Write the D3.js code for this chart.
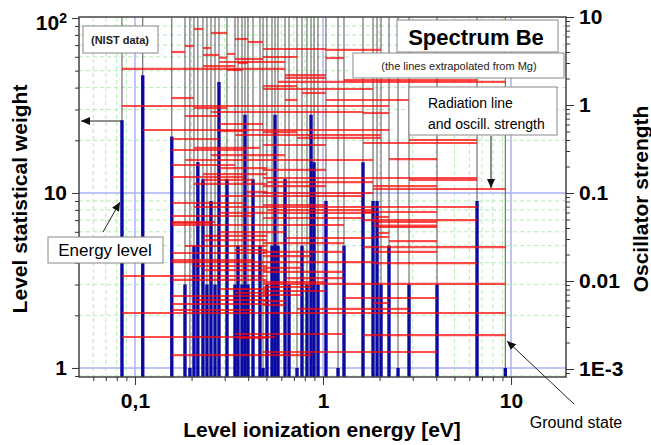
<!DOCTYPE html>
<html>
<head>
<meta charset="utf-8">
<script src="https://cdn.jsdelivr.net/npm/d3@7"></script>
<style>
body { margin: 0; background: #fff; }
text { font-family: "Liberation Sans", Arial, sans-serif; }
</style>
</head>
<body>
<div id="chart"></div>
<script>
// Be levels: ionization energy (eV) and statistical weight
const levelEnergy = [0.0853, 0.110, 0.157, 0.1845, 0.196, 0.206, 0.216, 0.230, 0.2415, 0.2537,
    0.2665, 0.2798, 0.3086, 0.3404, 0.3531, 0.3709, 0.3847, 0.399, 0.4244, 0.4623,
    0.4797, 0.5036, 0.5355, 0.5556, 0.5763, 0.6281, 0.6595, 0.7273, 0.7731, 0.8219,
    0.8636, 0.896, 0.9406, 1.037, 1.202, 1.293, 1.632, 1.845, 1.938, 2.035,
    2.244, 2.506, 2.867, 4.04, 6.593, 9.32];
const levelWeight = [26, 47, 21, 3, 1, 5, 15, 12, 3, 9,
    3, 43, 12, 3, 5, 3, 28, 3, 12, 5,
    1, 3, 5, 28, 5, 12, 3, 1, 5, 3,
    28, 15, 3, 9, 1, 5, 15, 9, 9, 3,
    5, 1, 3, 3, 9, 1];

// radiation lines: [level from, level to, oscillator strength]
const transitions = [
    [5, 7, 7.31], [9, 12, 6.58], [13, 17, 5.62], [17, 20, 5.20], [3, 5, 4.68], [7, 9, 4.44],
    [20, 33, 4.33], [33, 39, 4.22], [2, 3, 4.00], [12, 13, 3.80], [7, 11, 3.70], [20, 27, 3.51],
    [33, 35, 3.42], [11, 12, 3.45], [13, 20, 3.33], [11, 25, 3.08], [14, 17, 3.00], [7, 13, 2.77],
    [0, 25, 2.57], [12, 15, 2.50], [25, 33, 2.19], [25, 33, 2.03], [35, 44, 1.92], [24, 45, 1.83],
    [20, 27, 1.64], [20, 37, 1.52], [28, 33, 1.37], [2, 5, 1.20], [25, 27, 1.14], [33, 42, 1.14],
    [0, 40, 0.974], [5, 12, 0.925], [9, 36, 0.833], [36, 40, 0.811], [3, 11, 0.750], [11, 20, 0.608],
    [1, 40, 0.520], [11, 16, 0.506], [20, 27, 0.493], [13, 39, 0.456], [27, 39, 0.422], [2, 11, 0.411],
    [42, 44, 0.400], [36, 44, 0.370], [20, 33, 0.351], [5, 19, 0.325], [2, 16, 0.308], [9, 25, 0.270],
    [40, 43, 0.243], [3, 37, 0.237], [2, 13, 0.208], [11, 21, 0.192], [20, 33, 0.183], [7, 21, 0.164],
    [2, 16, 0.152], [20, 44, 0.148], [7, 18, 0.141], [42, 44, 0.141], [21, 37, 0.133], [5, 21, 0.127],
    [20, 33, 0.120], [37, 43, 0.120], [37, 45, 0.111], [16, 21, 0.103], [20, 37, 0.100], [11, 36, 0.0924],
    [2, 16, 0.0770], [20, 33, 0.0730], [5, 44, 0.0693], [21, 37, 0.0641], [36, 43, 0.0608], [11, 37, 0.0593],
    [2, 18, 0.0548], [37, 40, 0.0534], [20, 36, 0.0520], [36, 44, 0.0493], [37, 43, 0.0468], [2, 10, 0.0468],
    [2, 9, 0.0456], [2, 35, 0.0433], [37, 43, 0.0426], [38, 43, 0.0411], [11, 25, 0.0360], [38, 40, 0.0351],
    [7, 21, 0.0325], [37, 40, 0.0316], [25, 37, 0.0308], [7, 21, 0.0292], [40, 43, 0.0284], [20, 35, 0.0270],
    [3, 21, 0.0250], [36, 45, 0.0243], [13, 21, 0.0225], [20, 35, 0.0214], [37, 43, 0.0214], [2, 21, 0.0208],
    [20, 30, 0.0192], [2, 18, 0.0173], [2, 37, 0.0164], [37, 44, 0.0160], [5, 21, 0.0148], [20, 28, 0.0141],
    [7, 21, 0.0133], [20, 35, 0.0127], [0, 21, 0.0114], [25, 35, 0.0108], [2, 21, 0.0103], [20, 33, 0.00974],
    [20, 45, 0.00925], [20, 30, 0.00855], [11, 21, 0.00811], [20, 33, 0.00770], [13, 21, 0.00731], [20, 28, 0.00693],
    [2, 21, 0.00675], [35, 43, 0.00641], [5, 21, 0.00608], [20, 25, 0.00593], [37, 40, 0.00562], [2, 21, 0.00548],
    [20, 25, 0.00534], [27, 42, 0.00481], [2, 18, 0.00468], [0, 45, 0.00433], [13, 35, 0.00250], [36, 45, 0.00243],
    [0, 23, 0.00231], [14, 21, 0.00225], [20, 43, 0.00156], [2, 30, 0.00144]
];

const xTicks = [0.1, 1, 10];
const xTickLabels = ["0,1", "1", "10"];
const wTicks = [1, 10, 100];
const fTicks = [0.001, 0.01, 0.1, 1, 10];
const fTickLabels = ["1E-3", "0.01", "0.1", "1", "10"];

const width = 651, height = 445;
const mLeft = 79, mRight = 566, mTop = 17, mBottom = 377;

const svg = d3.select("#chart").append("svg")
    .attr("width", width)
    .attr("height", height)
    .style("display", "block");

const x = d3.scaleLog().domain([0.0504, 19.6]).range([mLeft, mRight]);
const yW = d3.scaleLog().domain([0.888, 101.3]).range([mBottom, mTop]);
const yF = d3.scaleLog().domain([8.11e-4, 10]).range([mBottom, mTop]);

const isPow10 = v => Math.abs(Math.log10(v) - Math.round(Math.log10(v))) < 1e-6;
const xMinor = x.ticks().filter(v => !isPow10(v));
const wMinor = yW.ticks().filter(v => !isPow10(v));
const fMinor = yF.ticks().filter(v => !isPow10(v));

// minor grid
const grid = svg.append("g");
grid.selectAll(".gx").data(xMinor).enter().append("line")
    .attr("x1", d => x(d)).attr("x2", d => x(d))
    .attr("y1", mTop).attr("y2", mBottom)
    .attr("stroke", "#b4ecb4").attr("stroke-dasharray", "4,3");
grid.selectAll(".gy").data(wMinor).enter().append("line")
    .attr("x1", mLeft).attr("x2", mRight)
    .attr("y1", d => yW(d)).attr("y2", d => yW(d))
    .attr("stroke", "#b4ecb4").attr("stroke-dasharray", "4,3");
// major grid
grid.selectAll(".mx").data(xTicks).enter().append("line")
    .attr("x1", d => x(d)).attr("x2", d => x(d))
    .attr("y1", mTop).attr("y2", mBottom)
    .attr("stroke", "#aab2f5").attr("stroke-width", 1.5);
grid.selectAll(".my").data(wTicks.slice(0, 2)).enter().append("line")
    .attr("x1", mLeft).attr("x2", mRight)
    .attr("y1", d => yW(d)).attr("y2", d => yW(d))
    .attr("stroke", "#aab2f5").attr("stroke-width", 1.5);

// level lines
svg.append("g").selectAll("line").data(levelEnergy).enter().append("line")
    .attr("x1", d => x(d)).attr("x2", d => x(d))
    .attr("y1", mTop).attr("y2", mBottom)
    .attr("stroke", "#555").attr("stroke-width", 1);

// statistical weight bars
svg.append("g").selectAll("line").data(levelEnergy).enter().append("line")
    .attr("x1", d => x(d)).attr("x2", d => x(d))
    .attr("y1", mBottom).attr("y2", (d, i) => yW(levelWeight[i]))
    .attr("stroke", "#0a0aa0").attr("stroke-width", 3.4);

// radiation lines
svg.append("g").selectAll("line").data(transitions).enter().append("line")
    .attr("x1", d => x(levelEnergy[d[0]])).attr("x2", d => x(levelEnergy[d[1]]))
    .attr("y1", d => yF(d[2])).attr("y2", d => yF(d[2]))
    .attr("stroke", "#ff0000").attr("stroke-opacity", 0.7).attr("stroke-width", 2.2);

// frame
svg.append("rect")
    .attr("x", mLeft).attr("y", mTop)
    .attr("width", mRight - mLeft).attr("height", mBottom - mTop)
    .attr("fill", "none").attr("stroke", "#444").attr("stroke-width", 1.5);

function styleAxis(g) {
    g.select(".domain").remove();
    g.selectAll(".tick line").attr("stroke", "#333");
    g.selectAll(".tick text")
        .style("font-family", "'Liberation Sans', Arial, sans-serif")
        .style("font-weight", "bold").style("font-size", "21px").attr("fill", "#000");
}

// bottom axis
svg.append("g").attr("transform", `translate(0,${mBottom})`)
    .call(d3.axisBottom(x).tickValues(xMinor).tickSize(4).tickFormat(""))
    .call(styleAxis);
svg.append("g").attr("transform", `translate(0,${mBottom})`)
    .call(d3.axisBottom(x).tickValues(xTicks).tickSize(8).tickPadding(8)
        .tickFormat((d, i) => xTickLabels[i]))
    .call(styleAxis);

// left axis
svg.append("g").attr("transform", `translate(${mLeft},0)`)
    .call(d3.axisLeft(yW).tickValues(wMinor).tickSize(4).tickFormat(""))
    .call(styleAxis);
const leftAxis = svg.append("g").attr("transform", `translate(${mLeft},0)`)
    .call(d3.axisLeft(yW).tickValues(wTicks).tickSize(7).tickPadding(5)
        .tickFormat(d => d === 100 ? "10" : String(d)))
    .call(styleAxis);
leftAxis.selectAll(".tick text").filter(d => d === 100)
    .attr("dy", "0.55em")
    .append("tspan").attr("dy", "-0.5em").style("font-size", "14px").text("2");

// right axis
svg.append("g").attr("transform", `translate(${mRight},0)`)
    .call(d3.axisRight(yF).tickValues(fMinor).tickSize(4).tickFormat(""))
    .call(styleAxis);
svg.append("g").attr("transform", `translate(${mRight},0)`)
    .call(d3.axisRight(yF).tickValues(fTicks).tickSize(8).tickPadding(5)
        .tickFormat((d, i) => fTickLabels[i]))
    .call(styleAxis);

// axis titles
svg.append("text").attr("x", 322).attr("y", 437).attr("text-anchor", "middle")
    .style("font-weight", "bold").style("font-size", "21px").text("Level ionization energy [eV]");
svg.append("text").attr("transform", "translate(27,199) rotate(-90)").attr("text-anchor", "middle")
    .style("font-weight", "bold").style("font-size", "21px").text("Level statistical weight");
svg.append("text").attr("transform", "translate(648,199) rotate(-90)").attr("text-anchor", "middle")
    .style("font-weight", "bold").style("font-size", "21px").text("Oscillator strength");

// annotations
function box(x0, y0, w, h) {
    svg.append("rect").attr("x", x0).attr("y", y0).attr("width", w).attr("height", h)
        .attr("fill", "#fff").attr("stroke", "#888").attr("stroke-width", 1);
}
box(83, 26, 75, 27);
svg.append("text").attr("x", 120).attr("y", 44).attr("text-anchor", "middle")
    .style("font-size", "11px").style("font-weight", "bold").attr("fill", "#222").text("(NIST data)");

box(397, 20, 161, 32);
svg.append("text").attr("x", 476).attr("y", 45).attr("text-anchor", "middle")
    .style("font-size", "22px").style("font-weight", "bold").text("Spectrum Be");

box(353, 53, 211, 25);
svg.append("text").attr("x", 459).attr("y", 70).attr("text-anchor", "middle")
    .style("font-size", "11px").attr("fill", "#222").text("(the lines extrapolated from Mg)");

box(409, 87, 148, 48);
svg.append("text").attr("x", 428).attr("y", 108)
    .style("font-size", "14px").text("Radiation line");
svg.append("text").attr("x", 428).attr("y", 129)
    .style("font-size", "14px").text("and oscill. strength");

box(48, 237, 115, 26);
svg.append("text").attr("x", 105).attr("y", 256).attr("text-anchor", "middle")
    .style("font-size", "17px").text("Energy level");

svg.append("text").attr("x", 576).attr("y", 428).attr("text-anchor", "middle")
    .style("font-size", "16px").text("Ground state");

// arrows
svg.append("defs").append("marker")
    .attr("id", "head").attr("markerUnits", "userSpaceOnUse")
    .attr("markerWidth", 9).attr("markerHeight", 8)
    .attr("refX", 9).attr("refY", 4).attr("orient", "auto")
    .append("path").attr("d", "M0,0 L9,4 L0,8 Z").attr("fill", "#111");

const arrows = [
    [491, 136, 491, 188],
    [103, 232, 120, 202],
    [122, 121, 81, 121],
    [574, 404, 507, 341]
];
svg.append("g").selectAll("line").data(arrows).enter().append("line")
    .attr("x1", d => d[0]).attr("y1", d => d[1])
    .attr("x2", d => d[2]).attr("y2", d => d[3])
    .attr("stroke", "#222").attr("stroke-width", 1)
    .attr("marker-end", "url(#head)");
</script>
</body>
</html>
